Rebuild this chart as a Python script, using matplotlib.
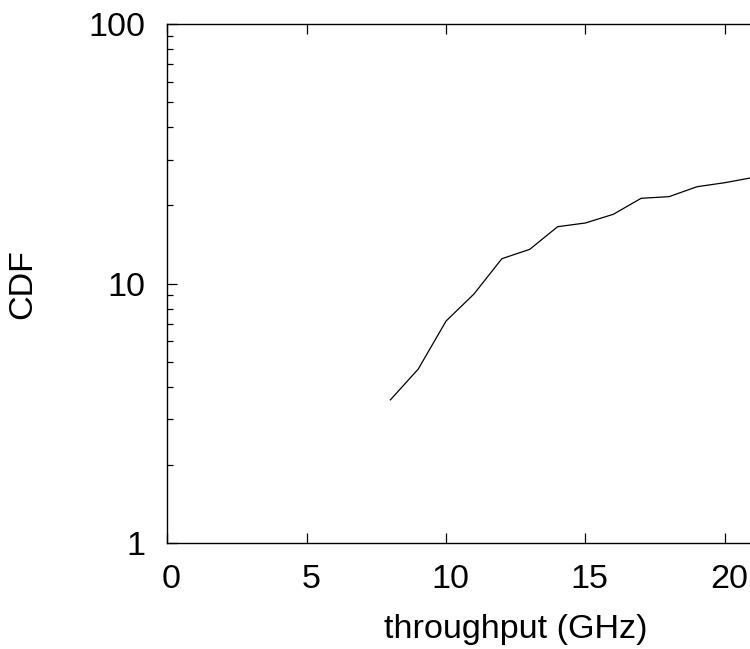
import matplotlib
matplotlib.use("Agg")
import matplotlib.pyplot as plt
import matplotlib.transforms as mtransforms
from matplotlib.ticker import LogLocator, FixedLocator, NullFormatter

# throughput (GHz) vs CDF
throughput = [8, 9, 10, 11, 12, 13, 14, 15, 16, 17, 18, 19, 20, 21]
cdf = [3.56, 4.68, 7.17, 9.11, 12.46, 13.54, 16.55, 17.11, 18.48,
       21.30, 21.61, 23.6, 24.46, 25.6]

x_ticks = [0, 5, 10, 15, 20]
y_ticks = [1, 10, 100]
y_ticklabels = ["1", "10", "100"]

plt.rcParams['font.family'] = ['Liberation Sans', 'DejaVu Sans']
FS = 24.6

W, H = 750, 649
fig = plt.figure(figsize=(W / 100, H / 100), dpi=100)

# axes is wider than the figure: the original picture is cropped on the right
left, bottom, top = 167.4, 543, 24
px_per_unit = 27.87
xmax = 25
ax = fig.add_axes([left / W, (H - bottom) / H,
                   xmax * px_per_unit / W, (bottom - top) / H])

ax.plot(throughput, cdf, color="black", linewidth=0.9)

ax.set_yscale("log")
ax.set_xlim(0, xmax)
ax.set_ylim(1, 100)

ax.xaxis.set_major_locator(FixedLocator(x_ticks))
ax.yaxis.set_major_locator(FixedLocator(y_ticks))
ax.set_yticklabels(y_ticklabels)
ax.yaxis.set_minor_locator(LogLocator(base=10, subs=range(2, 10)))
ax.yaxis.set_minor_formatter(NullFormatter())

ax.tick_params(which="both", direction="in", top=True, right=True,
               labelsize=FS, width=0.9, colors="black")
ax.tick_params(which="major", length=7)
ax.tick_params(which="minor", length=4)
ax.tick_params(axis="x", pad=15)
ax.tick_params(axis="y", pad=16)
for s in ax.spines.values():
    s.set_linewidth(1.0)

# gnuplot puts the x labels a little right of the ticks
shift = mtransforms.ScaledTranslation(4 / 100, 0, fig.dpi_scale_trans)
for lab in ax.get_xticklabels():
    lab.set_transform(lab.get_transform() + shift)

ax.set_xlabel("throughput (GHz)", fontsize=FS, labelpad=14)
fig.text(22.5 / W, 1 - 284 / H, "CDF", rotation=90, fontsize=FS,
         ha="center", va="center")

fig.savefig("out.png", dpi=100)
